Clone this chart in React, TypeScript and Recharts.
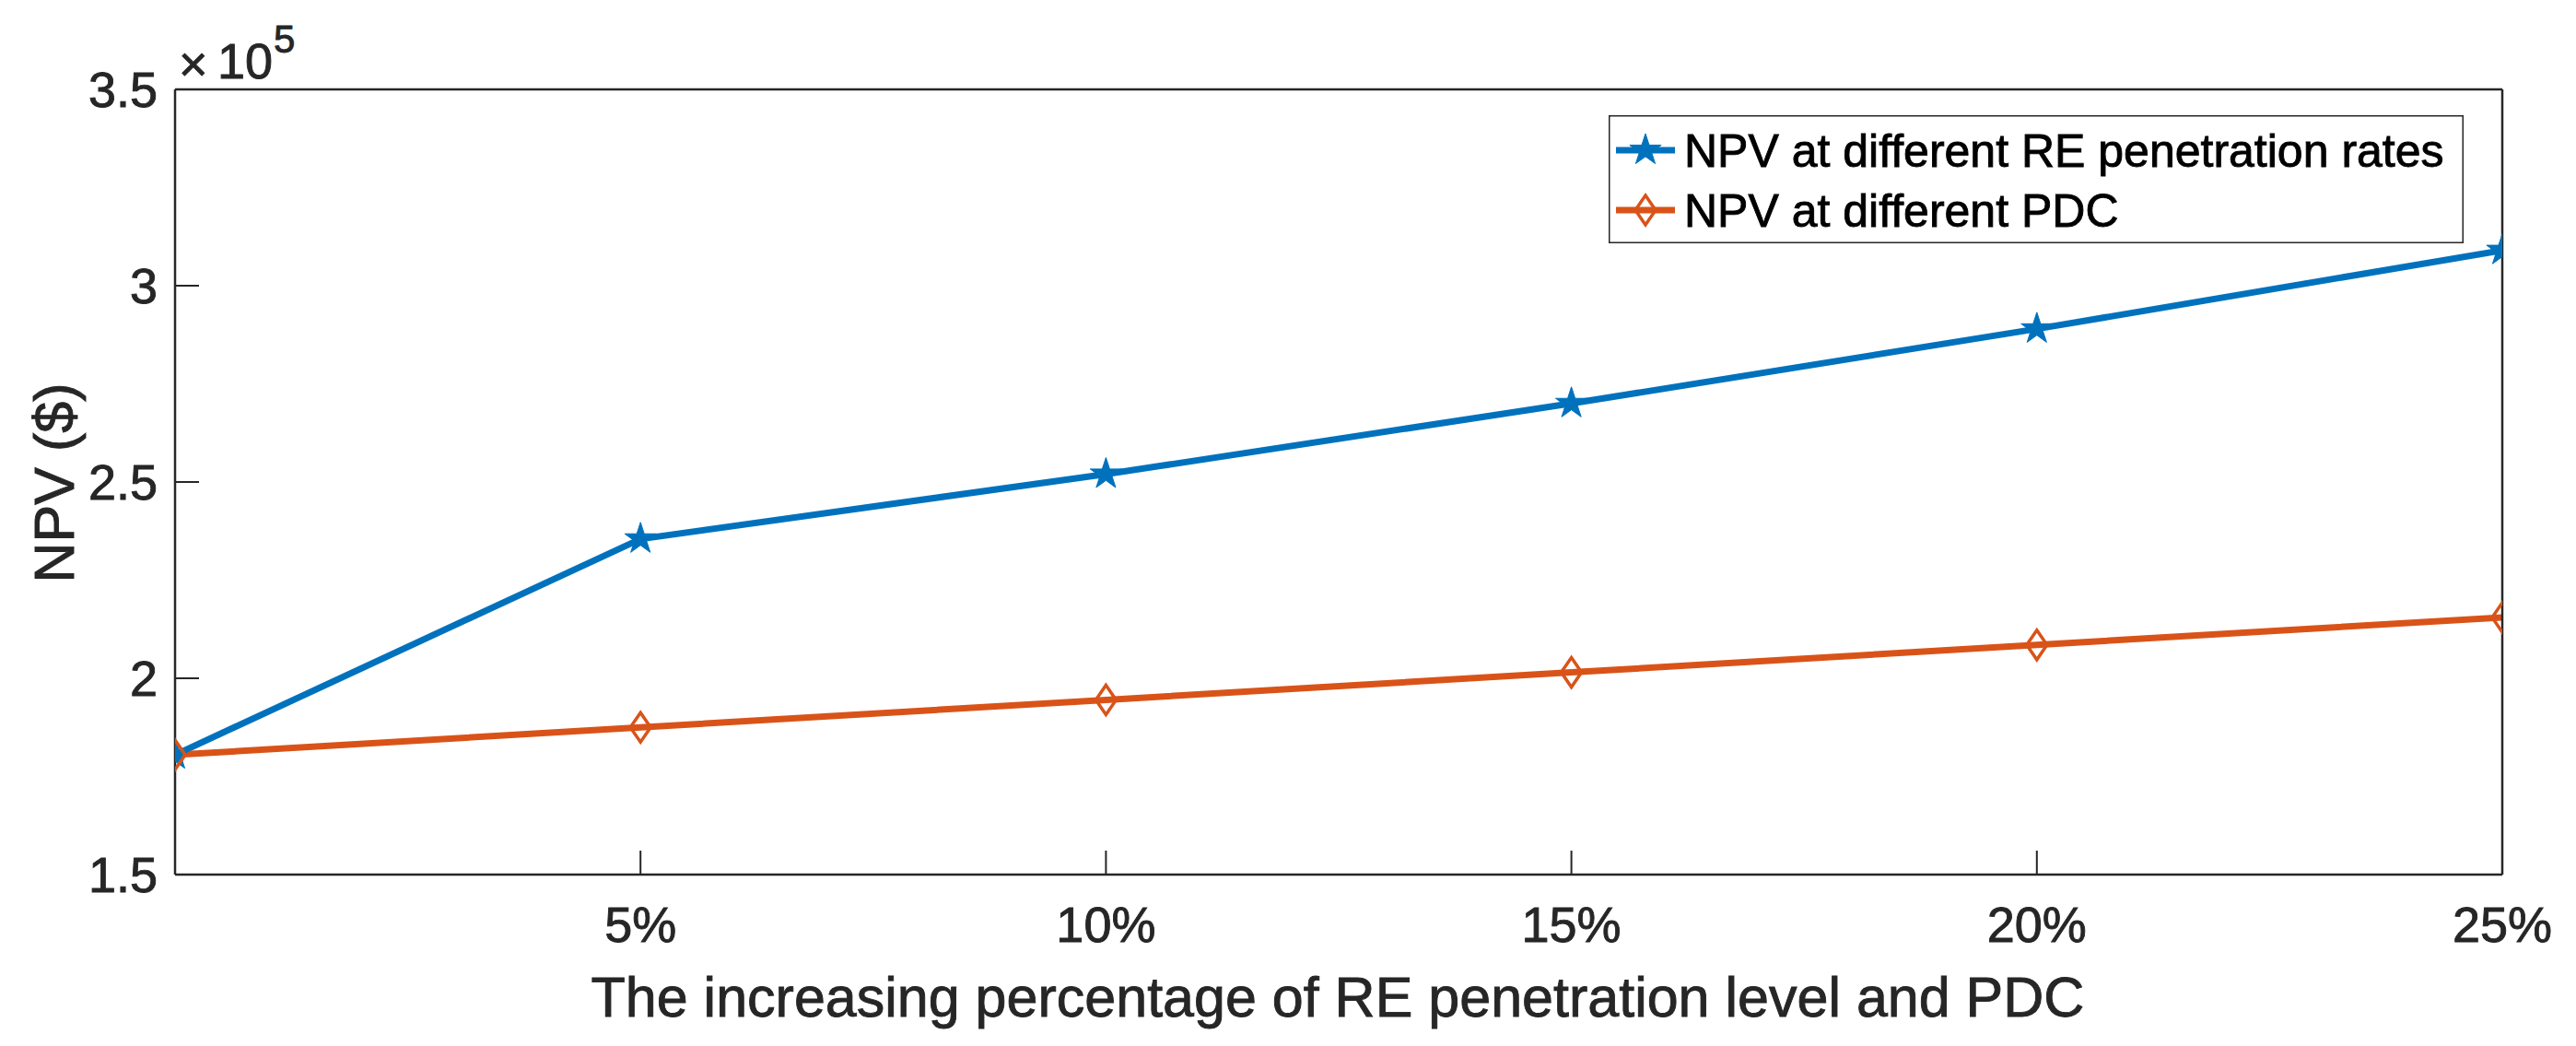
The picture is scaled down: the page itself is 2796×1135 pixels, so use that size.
import React from 'react';
import { LineChart, Line, XAxis, YAxis, Legend } from 'recharts';

// x positions (increase in %) and NPV values in $
const increasePct = [0, 5, 10, 15, 20, 25];
const npvRePenetration = [180500, 235500, 252000, 270000, 289000, 309000];
const npvPdc = [180500, 187500, 194500, 201500, 208500, 215500];
const xTicks = [5, 10, 15, 20, 25];
const yTicks = [150000, 200000, 250000, 300000, 350000];
const seriesNames = ['NPV at different RE penetration rates', 'NPV at different PDC'];

const BLUE = '#0072BD';
const ORANGE = '#D95319';
const AXIS = '#262626';
const FONT = '"Liberation Sans", Arial, Helvetica, sans-serif';
const TICK_LEN = 26;
const X_GAP = 34;
const Y_GAP = 19;

const data = increasePct.map((x, i) => ({
  x,
  re: npvRePenetration[i],
  pdc: npvPdc[i],
}));

// MATLAB text renders a bit heavier than plain Liberation Sans
const heavy = { stroke: AXIS, strokeWidth: 0.9 };

const starPoints = (cx: number, cy: number, R: number) => {
  const r = R * 0.382;
  const pts: string[] = [];
  for (let i = 0; i < 10; i++) {
    const a = ((-90 + i * 36) * Math.PI) / 180;
    const rad = i % 2 === 0 ? R : r;
    pts.push(`${cx + rad * Math.cos(a)},${cy + rad * Math.sin(a)}`);
  }
  return pts.join(' ');
};

const Star = ({ cx, cy }: { cx: number; cy: number }) => (
  <polygon points={starPoints(cx, cy, 18)} fill={BLUE} stroke={BLUE} strokeWidth={1} />
);

const Diamond = ({ cx, cy }: { cx: number; cy: number }) => (
  <polygon
    points={`${cx},${cy - 16} ${cx + 11},${cy} ${cx},${cy + 16} ${cx - 11},${cy}`}
    fill="none"
    stroke={ORANGE}
    strokeWidth={3.5}
  />
);

// inward tick + label below the axis
const XTick = (p: any) => {
  const { x, y, payload } = p;
  return (
    <g>
      <line x1={x} y1={y - X_GAP} x2={x} y2={y - X_GAP - TICK_LEN} stroke={AXIS} strokeWidth={2} />
      <text x={x} y={y} dy="0.72em" textAnchor="middle" fontSize={54} fontFamily={FONT} fill={AXIS} {...heavy}>
        {`${payload.value}%`}
      </text>
    </g>
  );
};

const YTick = (p: any) => {
  const { x, y, payload } = p;
  return (
    <g>
      <line x1={x + Y_GAP} y1={y} x2={x + Y_GAP + TICK_LEN} y2={y} stroke={AXIS} strokeWidth={2} />
      <text x={x} y={y} dy="0.36em" textAnchor="end" fontSize={54} fontFamily={FONT} fill={AXIS} {...heavy}>
        {`${payload.value / 100000}`}
      </text>
    </g>
  );
};

const renderLegend = () => (
  <svg width={928} height={139} style={{ display: 'block' }}>
    <rect x={0.75} y={0.75} width={926.5} height={137.5} fill="#fff" stroke={AXIS} strokeWidth={1.5} />
    <line x1={8} y1={38} x2={72} y2={38} stroke={BLUE} strokeWidth={7} />
    <Star cx={40} cy={38} />
    <text x={82} y={56} fontSize={50} fontFamily={FONT} fill="#000" stroke="#000" strokeWidth={0.9}>{seriesNames[0]}</text>
    <line x1={8} y1={103} x2={72} y2={103} stroke={ORANGE} strokeWidth={7} />
    <Diamond cx={40} cy={103} />
    <text x={82} y={121} fontSize={50} fontFamily={FONT} fill="#000" stroke="#000" strokeWidth={0.9}>{seriesNames[1]}</text>
  </svg>
);

const axisLine = { stroke: AXIS, strokeWidth: 2.5 };
const tickLine = { stroke: AXIS, strokeWidth: 2 };

export default function App() {
  return (
    <div style={{ position: 'absolute', left: 0, top: 0, background: '#fff' }}>
      <LineChart
        width={2796}
        height={1135}
        data={data}
        margin={{ top: 97, right: 80, left: 90, bottom: 86 }}
      >
        <XAxis
          xAxisId="bottom"
          dataKey="x"
          type="number"
          domain={[0, 25]}
          ticks={xTicks}
          allowDataOverflow
          height={100}
          tickSize={0}
          tickMargin={X_GAP}
          tick={<XTick />}
          axisLine={axisLine}
          tickLine={false}
        />
        <XAxis
          xAxisId="top"
          orientation="top"
          dataKey="x"
          type="number"
          domain={[0, 25]}
          ticks={xTicks}
          allowDataOverflow
          height={1}
          mirror
          tickSize={TICK_LEN}
          tick={false}
          axisLine={axisLine}
          tickLine={tickLine}
        />
        <YAxis
          yAxisId="left"
          type="number"
          domain={[150000, 350000]}
          ticks={yTicks}
          allowDataOverflow
          width={100}
          tickSize={0}
          tickMargin={Y_GAP}
          tick={<YTick />}
          axisLine={axisLine}
          tickLine={false}
        />
        <YAxis
          yAxisId="right"
          orientation="right"
          type="number"
          domain={[150000, 350000]}
          ticks={yTicks}
          allowDataOverflow
          width={1}
          mirror
          tickSize={TICK_LEN}
          tick={false}
          axisLine={axisLine}
          tickLine={tickLine}
        />
        <Legend
          content={renderLegend}
          layout="vertical"
          align="center"
          verticalAlign="middle"
          wrapperStyle={{ left: 1746, top: 125, width: 928, height: 139 }}
        />
        <Line
          xAxisId="bottom"
          yAxisId="left"
          dataKey="re"
          name={seriesNames[0]}
          stroke={BLUE}
          strokeWidth={7}
          isAnimationActive={false}
          activeDot={false}
          dot={(p: any) => <Star key={`s${p.index}`} cx={p.cx} cy={p.cy} />}
        />
        <Line
          xAxisId="bottom"
          yAxisId="left"
          dataKey="pdc"
          name={seriesNames[1]}
          stroke={ORANGE}
          strokeWidth={7}
          isAnimationActive={false}
          activeDot={false}
          dot={(p: any) => <Diamond key={`d${p.index}`} cx={p.cx} cy={p.cy} />}
        />
        <text x={194} y={88} fontSize={54} fontFamily={FONT} fill={AXIS} {...heavy}>×</text>
        <text x={236} y={85} fontSize={54} fontFamily={FONT} fill={AXIS} {...heavy}>10</text>
        <text x={297} y={57} fontSize={42} fontFamily={FONT} fill={AXIS} {...heavy}>5</text>
        <text x={1452} y={1103} fontSize={61} fontFamily={FONT} fill={AXIS} textAnchor="middle" {...heavy}>
          The increasing percentage of RE penetration level and PDC
        </text>
        <text transform="translate(80,524) rotate(-90)" fontSize={61} fontFamily={FONT} fill={AXIS} textAnchor="middle" {...heavy}>
          NPV ($)
        </text>
      </LineChart>
    </div>
  );
}
